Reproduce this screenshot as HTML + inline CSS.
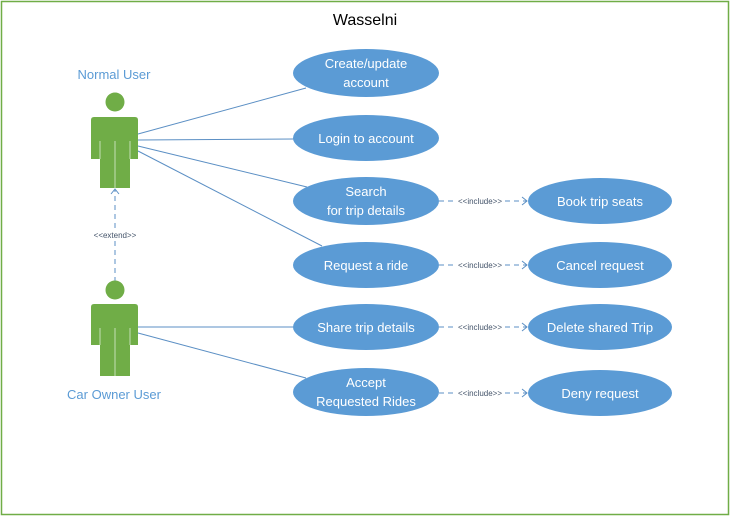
<!DOCTYPE html>
<html><head><style>body{margin:0;background:#fff}</style></head><body>
<svg width="731" height="517" xmlns="http://www.w3.org/2000/svg" font-family="Liberation Sans, sans-serif">
<rect x="1.5" y="1.5" width="727" height="513" fill="#fff" stroke="#70ad47" stroke-width="1.5"/>
<text x="365" y="25" font-size="16" text-anchor="middle" fill="#000">Wasselni</text>
<g stroke="#5b8fc4" stroke-width="1" fill="none">
<line x1="138" y1="134" x2="306" y2="88"/>
<line x1="138" y1="140" x2="294" y2="139"/>
<line x1="138" y1="146" x2="307" y2="187"/>
<line x1="138" y1="151" x2="322" y2="246"/>
<line x1="138" y1="327" x2="294" y2="327"/>
<line x1="138" y1="333" x2="306" y2="378"/>
</g>
<g stroke="#5b8fc4" stroke-width="1" fill="none" stroke-dasharray="5,4">
<line x1="115" y1="282" x2="115" y2="190"/>
<line x1="439" y1="201" x2="454" y2="201"/><line x1="505" y1="201" x2="527" y2="201"/>
<line x1="439" y1="265" x2="454" y2="265"/><line x1="505" y1="265" x2="527" y2="265"/>
<line x1="439" y1="327" x2="454" y2="327"/><line x1="505" y1="327" x2="527" y2="327"/>
<line x1="439" y1="393" x2="454" y2="393"/><line x1="505" y1="393" x2="527" y2="393"/>
</g>
<g stroke="#5b8fc4" fill="none">
<polyline points="111,194 115,189 119,194"/>
<polyline points="522,197 527,201 522,205"/>
<polyline points="522,261 527,265 522,269"/>
<polyline points="522,323 527,327 522,331"/>
<polyline points="522,389 527,393 522,397"/>
</g>
<rect x="88" y="229" width="54" height="12" fill="#fff"/>
<text x="115" y="238" font-size="8" fill="#44546a" text-anchor="middle">&lt;&lt;extend&gt;&gt;</text>
<g font-size="8" fill="#44546a" text-anchor="middle">
<text x="480" y="204">&lt;&lt;include&gt;&gt;</text>
<text x="480" y="268">&lt;&lt;include&gt;&gt;</text>
<text x="480" y="330">&lt;&lt;include&gt;&gt;</text>
<text x="480" y="396">&lt;&lt;include&gt;&gt;</text>
</g>
<g fill="#70ad47">
<circle cx="115" cy="102" r="9.5"/>
<path d="M94,117 H135 Q138,117 138,120 V159 H130 V188 H100 V159 H91 V120 Q91,117 94,117Z"/>
<circle cx="115" cy="290" r="9.5"/>
<path d="M94,304 H135 Q138,304 138,307 V345 H130 V376 H100 V345 H91 V307 Q91,304 94,304Z"/>
</g>
<g stroke="#c5e0b4" stroke-width="1">
<line x1="115" y1="141" x2="115" y2="188"/><line x1="100" y1="141" x2="100" y2="159"/><line x1="130" y1="141" x2="130" y2="159"/>
<line x1="115" y1="328" x2="115" y2="376"/><line x1="100" y1="328" x2="100" y2="345"/><line x1="130" y1="328" x2="130" y2="345"/>
</g>
<text x="114" y="79" font-size="13" fill="#5b9bd5" text-anchor="middle">Normal User</text>
<text x="114" y="399" font-size="13" fill="#5b9bd5" text-anchor="middle">Car Owner User</text>
<g fill="#5b9bd5">
<ellipse cx="366" cy="73" rx="73" ry="24"/>
<ellipse cx="366" cy="138" rx="73" ry="23"/>
<ellipse cx="366" cy="201" rx="73" ry="24"/>
<ellipse cx="366" cy="265" rx="73" ry="23"/>
<ellipse cx="366" cy="327" rx="73" ry="23"/>
<ellipse cx="366" cy="392" rx="73" ry="24"/>
<ellipse cx="600" cy="201" rx="72" ry="23"/>
<ellipse cx="600" cy="265" rx="72" ry="23"/>
<ellipse cx="600" cy="327" rx="72" ry="23"/>
<ellipse cx="600" cy="393" rx="72" ry="23"/>
</g>
<g fill="#fff" font-size="13" text-anchor="middle">
<text x="366" y="68">Create/update</text><text x="366" y="87">account</text>
<text x="366" y="143">Login to account</text>
<text x="366" y="196">Search</text><text x="366" y="215">for trip details</text>
<text x="366" y="270">Request a ride</text>
<text x="366" y="332">Share trip details</text>
<text x="366" y="387">Accept</text><text x="366" y="406">Requested Rides</text>
<text x="600" y="206">Book trip seats</text>
<text x="600" y="270">Cancel request</text>
<text x="600" y="332">Delete shared Trip</text>
<text x="600" y="398">Deny request</text>
</g>
</svg>
</body></html>
